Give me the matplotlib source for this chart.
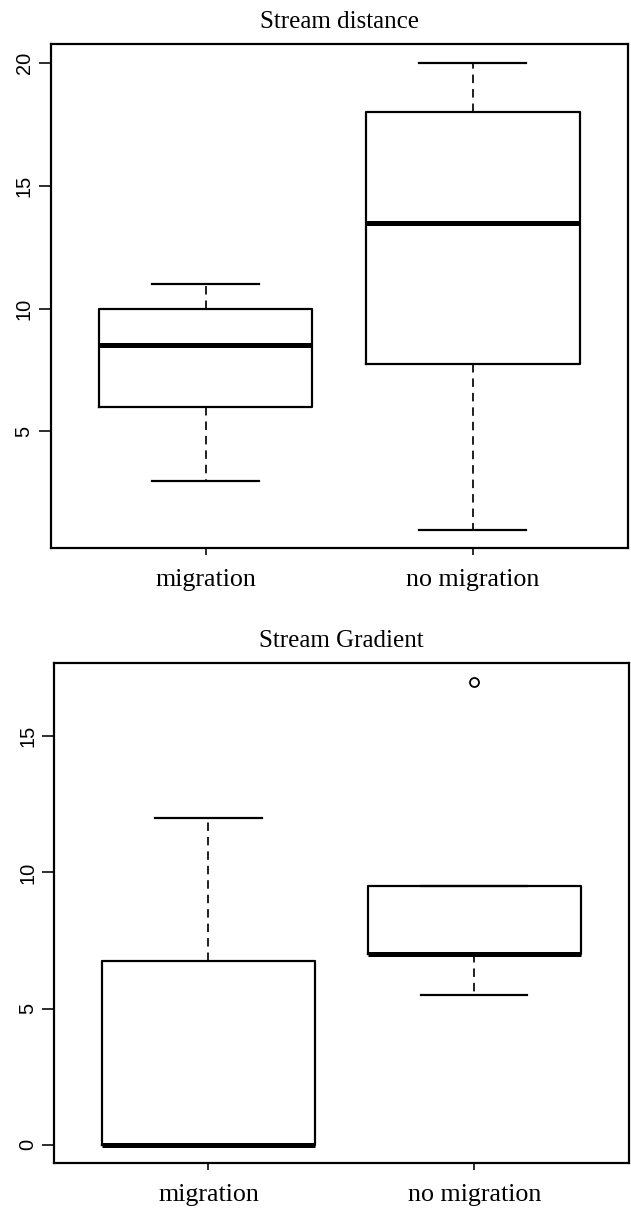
import matplotlib
matplotlib.use("Agg")
import matplotlib.pyplot as plt

# Group labels shared by both panels
groups = ["migration", "no migration"]

# Stream distance: five-number summaries per group
dist_whislo = [3, 1]
dist_q1 = [6, 7.75]
dist_med = [8.5, 13.5]
dist_q3 = [10, 18]
dist_whishi = [11, 20]
dist_fliers = [[], []]
dist_ticks = [5, 10, 15, 20]

# Stream gradient: five-number summaries per group
grad_whislo = [0, 5.5]
grad_q1 = [0, 7]
grad_med = [0, 7]
grad_q3 = [6.75, 9.5]
grad_whishi = [12, 9.5]
grad_fliers = [[], [17]]
grad_ticks = [0, 5, 10, 15]

W, H = 631, 1211
DPI = 100
SERIF = ["Liberation Serif", "DejaVu Serif"]
SANS = ["Liberation Sans", "DejaVu Sans"]


def px(v):
    return v * 72.0 / DPI


def make_stats(lo, q1, med, q3, hi, fliers):
    return [dict(whislo=a, q1=b, med=c, q3=d, whishi=e, fliers=f)
            for a, b, c, d, e, f in zip(lo, q1, med, q3, hi, fliers)]


def panel(rect_px, title, lo, q1, med, q3, hi, fliers, ticks):
    l, t, r, b = rect_px
    ax = fig.add_axes([l / W, 1 - b / H, (r - l) / W, (b - t) / H])
    stats = make_stats(lo, q1, med, q3, hi, fliers)
    ax.bxp(stats, positions=[1, 2], widths=0.8, showfliers=True,
           boxprops=dict(color="black", linewidth=px(2.2)),
           medianprops=dict(color="black", linewidth=px(5), solid_capstyle="butt"),
           whiskerprops=dict(color="black", linewidth=px(1.7), linestyle=(0, (5, 3.5))),
           capprops=dict(color="black", linewidth=px(2.2)),
           capwidths=0.4,
           flierprops=dict(marker="o", markersize=px(9), markerfacecolor="none",
                           markeredgecolor="black", markeredgewidth=px(1.8)))
    # axis ranges padded by 4% like R's default
    allv = list(lo) + list(hi) + [v for f in fliers for v in f]
    ymin, ymax = min(allv), max(allv)
    pad = 0.04 * (ymax - ymin)
    ax.set_ylim(ymin - pad, ymax + pad)
    ax.set_xlim(0.42, 2.58)
    ax.set_yticks(ticks)
    ax.set_yticklabels([str(v) for v in ticks], rotation=90, va="center",
                       family=SANS, fontsize=px(20))
    ax.set_xticks([1, 2])
    ax.set_xticklabels(groups, family=SERIF, fontsize=px(26))
    ax.tick_params(axis="y", length=px(12), width=px(1.6), pad=px(5))
    ax.tick_params(axis="x", length=px(7), width=px(1.6), pad=px(14))
    for s in ax.spines.values():
        s.set_linewidth(px(2.2))
    ax.set_title(title, family=SERIF, fontsize=px(25), pad=px(16))
    return ax


fig = plt.figure(figsize=(W / DPI, H / DPI), dpi=DPI)
panel((50.7, 44.3, 627.7, 548.3), "Stream distance",
      dist_whislo, dist_q1, dist_med, dist_q3, dist_whishi, dist_fliers, dist_ticks)
panel((54.3, 663.3, 628.5, 1163.3), "Stream Gradient",
      grad_whislo, grad_q1, grad_med, grad_q3, grad_whishi, grad_fliers, grad_ticks)
fig.savefig("out.png", dpi=DPI)
